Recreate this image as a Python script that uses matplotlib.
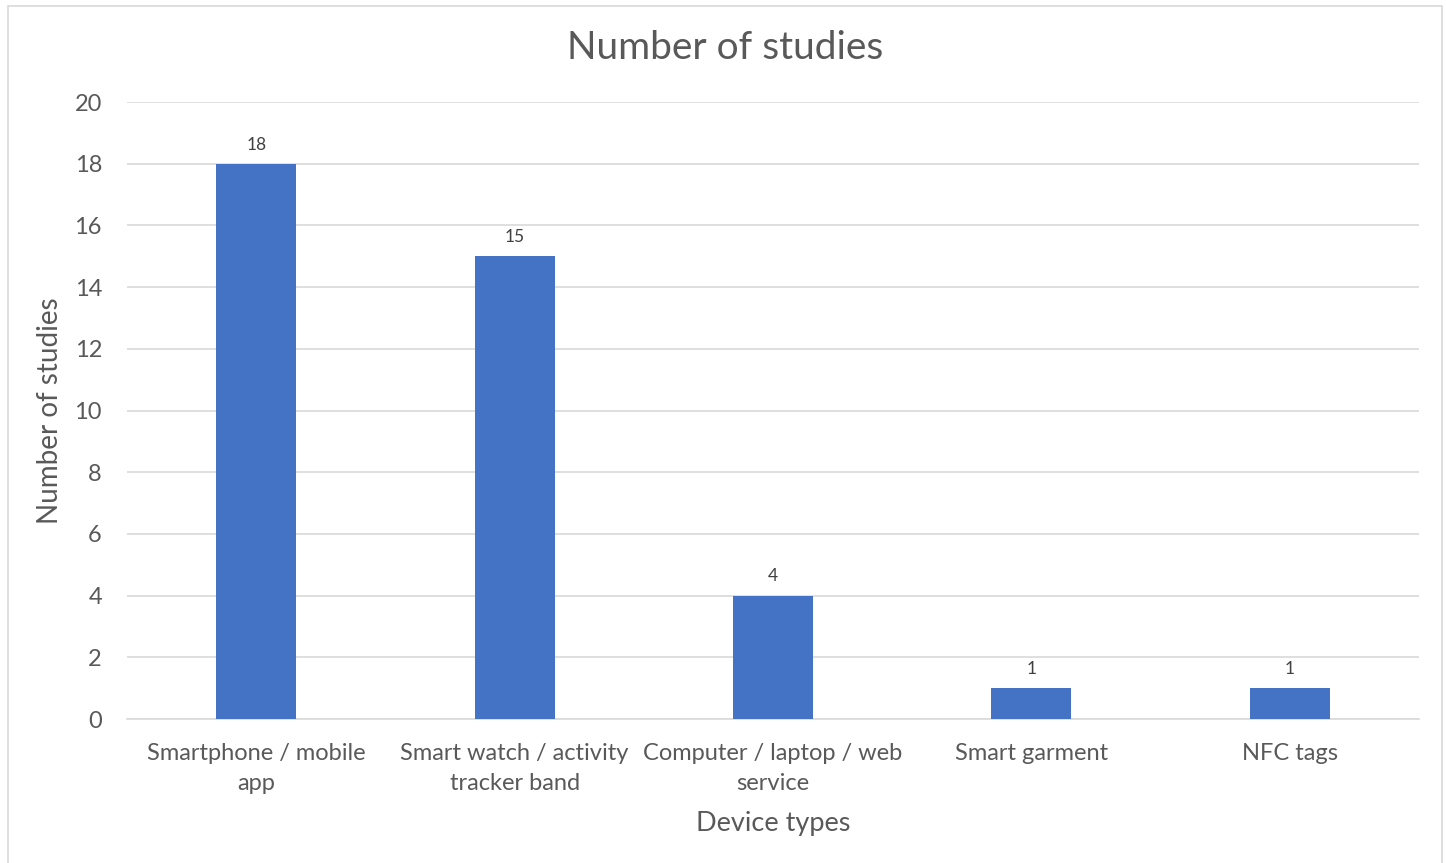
import matplotlib
matplotlib.use("Agg")
import matplotlib.pyplot as plt
from matplotlib.patches import Rectangle

# Data
devices = ["Smartphone / mobile\napp", "Smart watch / activity\ntracker band",
           "Computer / laptop / web\nservice", "Smart garment", "NFC tags"]
studies = [18, 15, 4, 1, 1]
y_ticks = [0, 2, 4, 6, 8, 10, 12, 14, 16, 18, 20]

plt.rcParams['font.family'] = ['Lato', 'DejaVu Sans']
text_col = '#595959'
grid_col = '#D9D9D9'
bar_col = '#4472C4'

W, H = 1446, 863
fig = plt.figure(figsize=(W / 100, H / 100), dpi=100)
ax = fig.add_axes([127 / W, 1 - 719 / H, (1419 - 127) / W, (719 - 102) / H])

x = range(len(devices))
bars = ax.bar(x, studies, width=0.31, color=bar_col, zorder=3)
for b, v in zip(bars, studies):
    ax.annotate(str(v), (b.get_x() + b.get_width() / 2, v), xytext=(0, 8),
                textcoords='offset points', ha='center', va='bottom',
                fontsize=12.5, color='#404040')

ax.set_xlim(-0.5, len(devices) - 0.5)
ax.set_ylim(0, 20)
ax.set_yticks(y_ticks)
ax.set_xticks(list(x))
ax.set_xticklabels(devices, fontsize=17, color=text_col, linespacing=1.55)
ax.tick_params(axis='y', labelsize=17, labelcolor=text_col, length=0, pad=18)
ax.tick_params(axis='x', length=0, pad=17)
ax.grid(axis='y', color=grid_col, linewidth=1.2, zorder=0)
for s in ['top', 'right', 'left']:
    ax.spines[s].set_visible(False)
ax.spines['bottom'].set_color(grid_col)
ax.spines['bottom'].set_linewidth(1.2)

ax.set_xlabel("Device types", fontsize=19.5, color=text_col, labelpad=12)
ax.set_ylabel("Number of studies", fontsize=20, color=text_col, labelpad=8)
fig.text(725 / W, 1 - 48 / H, "Number of studies", ha='center', va='center',
         fontsize=28, color=text_col)

# chart frame
fig.patches.append(Rectangle((8 / W, -0.01), (1442 - 8) / W, 1 - 6 / H + 0.01,
                             transform=fig.transFigure, fill=False,
                             edgecolor=grid_col, linewidth=1.2))

fig.savefig("out.png", dpi=100)
